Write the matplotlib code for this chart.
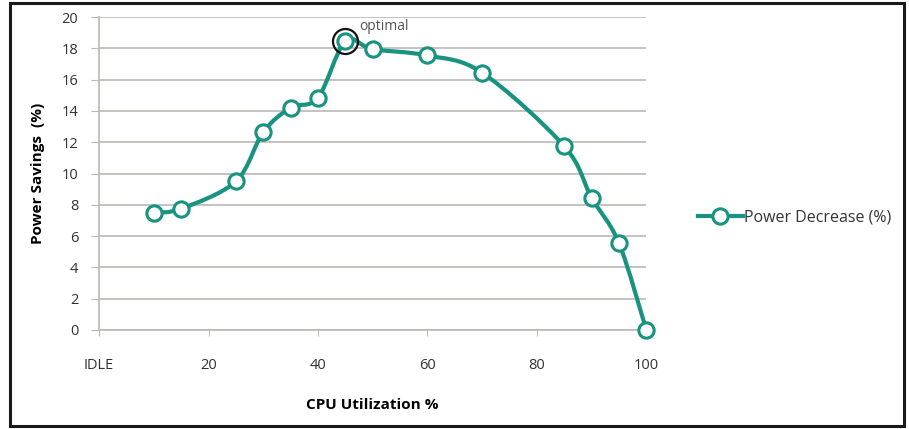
import numpy as np
import matplotlib
matplotlib.use("Agg")
import matplotlib.pyplot as plt
from matplotlib.path import Path
from matplotlib.patches import PathPatch, Rectangle
from matplotlib.lines import Line2D

plt.rcParams['font.family'] = ['Open Sans', 'DejaVu Sans']

cpu = [10, 15, 25, 30, 35, 40, 45, 50, 60, 70, 85, 90, 95, 100]
savings = [7.5, 7.75, 9.5, 12.65, 14.2, 14.85, 18.45, 17.95, 17.55, 16.45, 11.75, 8.45, 5.55, 0]
x_ticks = [0, 20, 40, 60, 80, 100]
x_labels = ["IDLE", "20", "40", "60", "80", "100"]
y_ticks = list(range(0, 21, 2))
series_name = "Power Decrease (%)"
optimal_x = 45

teal = "#17937f"
grid_c = "#bcb8b5"


def smooth_path(x, y, t=1/6):
	# excel style smoothed line: bezier segments with catmull-rom control points
	p = np.column_stack([x, y]).astype(float)
	verts = [p[0]]
	codes = [Path.MOVETO]
	n = len(p)
	for i in range(n - 1):
		p0 = p[i - 1] if i > 0 else p[i]
		p3 = p[i + 2] if i + 2 < n else p[i + 1]
		c1 = p[i] + (p[i + 1] - p0) * t
		c2 = p[i + 1] - (p3 - p[i]) * t
		verts += [c1, c2, p[i + 1]]
		codes += [Path.CURVE4] * 3
	return Path(verts, codes)


fig = plt.figure(figsize=(9.09, 4.29), dpi=100)
ax = fig.add_axes([0.109, 0.231, 0.602, 0.729])

ax.add_patch(PathPatch(smooth_path(cpu, savings), fill=False, edgecolor=teal,
	lw=3.0, capstyle='round', joinstyle='round', zorder=3, clip_on=False))
ax.plot(cpu, savings, ls='none', marker='o', ms=11, mfc='white', mec=teal,
	mew=2.2, zorder=4, clip_on=False)

opt_y = savings[cpu.index(optimal_x)]
ax.plot([optimal_x], [opt_y], ls='none', marker='o', ms=18, mfc='none', mec='#111111',
	mew=1.6, zorder=5, clip_on=False)
ax.text(optimal_x + 2.5, opt_y + 0.45, "optimal", fontsize=10, color='#555555',
	va='bottom', ha='left')

ax.set_xlim(0, 100)
ax.set_ylim(0, 20)
ax.set_xticks(x_ticks)
ax.set_xticklabels(x_labels)
ax.set_yticks(y_ticks)
ax.yaxis.grid(True, color=grid_c, lw=1.2)
ax.set_axisbelow(True)
for s in ['top', 'right']:
	ax.spines[s].set_visible(False)
for s in ['left', 'bottom']:
	ax.spines[s].set_color(grid_c)
	ax.spines[s].set_linewidth(1.2)
ax.tick_params(axis='x', direction='out', length=4, color=grid_c, pad=16,
	labelsize=10.5, labelcolor='#333333')
ax.tick_params(axis='y', direction='out', length=6, color=grid_c, pad=9,
	labelsize=10.5, labelcolor='#333333')

ax.set_xlabel("CPU Utilization %", fontsize=11, fontweight='bold', labelpad=18)
ax.set_ylabel("Power Savings  (%)", fontsize=11, fontweight='bold', labelpad=12)

handle = Line2D([], [], color=teal, lw=3.0, marker='o', ms=11, mfc='white',
	mec=teal, mew=2.2)
fig.legend([handle], [series_name], loc='center left', bbox_to_anchor=(0.752, 0.492),
	frameon=False, fontsize=11.5, handlelength=2.8, handletextpad=0.1,
	labelcolor='#333333')

fig.patches.append(Rectangle((0.011, 0.007), 0.983, 0.985, transform=fig.transFigure,
	fill=False, edgecolor='#1a1a1a', lw=2.2))

fig.savefig("out.png", dpi=100)
